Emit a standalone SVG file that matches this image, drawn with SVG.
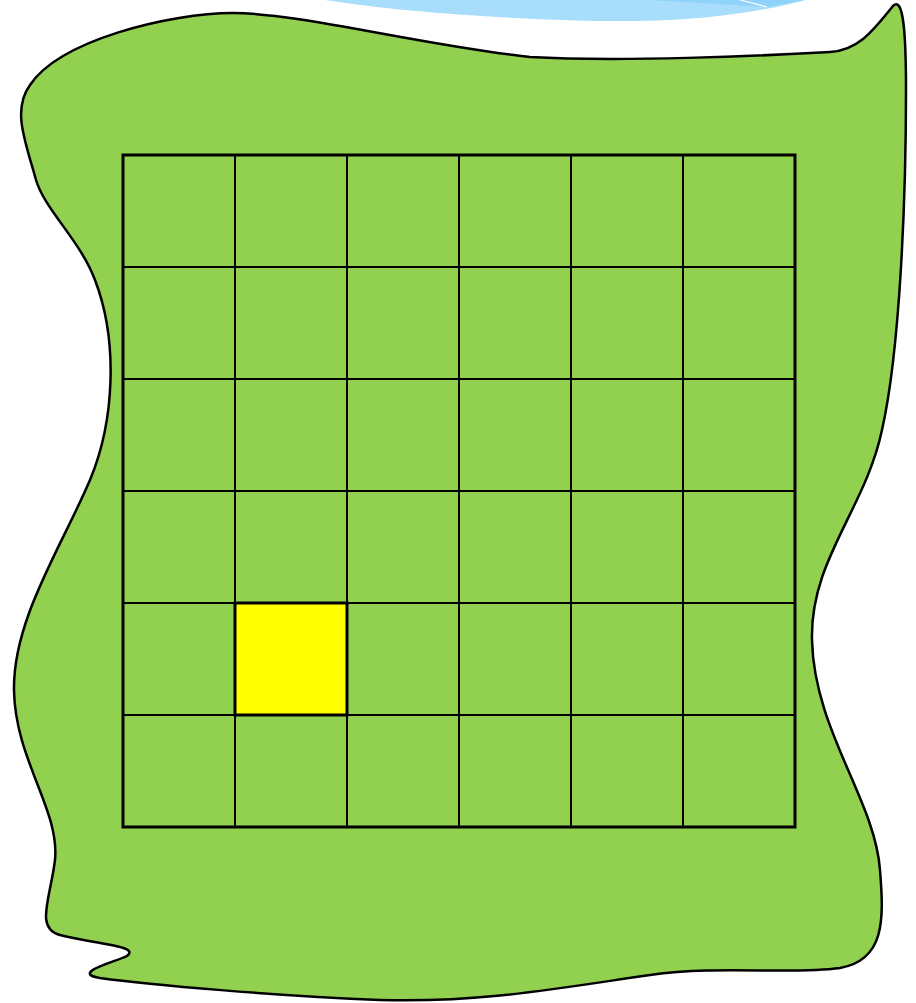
<svg xmlns="http://www.w3.org/2000/svg" width="916" height="1003" viewBox="0 0 916 1003">
<style>
.inner{stroke:#000;stroke-width:2;fill:none}
.outer{stroke:#000;stroke-width:3;fill:none}
</style>
<rect width="916" height="1003" fill="#fff"/>
<g id="sky">
<path d="M 325 0 C 420 15, 560 22, 640 21 C 710 20, 770 10, 805 0 Z" fill="#a8ddfb"/>
<path d="M 650 0 L 767 7 C 782 4, 795 2, 805 0 Z" fill="#8fd3fa"/>
<path d="M 740 0 L 767 7" stroke="#fff" stroke-width="1.2"/>
</g>
<g id="land">
<path d="M 233 13 C 300 13, 420 45, 530 57 C 620 62, 760 56, 830 52 C 860 50, 875 28, 893 6 C 903 -4, 906 30, 906 90 C 906 200, 900 350, 882 430 C 865 510, 810 560, 812 640 C 814 730, 875 800, 880 870 C 884 920, 885 960, 840 968 C 790 975, 720 965, 650 975 C 560 988, 480 1003, 380 1000 C 280 996, 150 985, 100 978 C 70 973, 115 962, 127 956 C 140 946, 100 945, 60 935 C 35 928, 50 900, 55 860 C 60 810, 15 760, 14 690 C 13 620, 60 550, 90 480 C 115 420, 118 340, 95 280 C 80 240, 45 210, 36 180 C 25 140, 12 110, 30 85 C 60 40, 170 13, 233 13 Z" fill="#92d050" stroke="#000" stroke-width="2.5"/>
</g>
<g id="grid">
<path class="inner" d="M235 155V827M347 155V827M459 155V827M571 155V827M683 155V827M123 267H795M123 379H795M123 491H795M123 603H795M123 715H795"/>
<rect class="outer" x="123" y="155" width="672" height="672"/>
</g>
<g id="highlight">
<rect x="235" y="603" width="112" height="112" fill="#ffff00" stroke="#000" stroke-width="3"/>
</g>
</svg>
